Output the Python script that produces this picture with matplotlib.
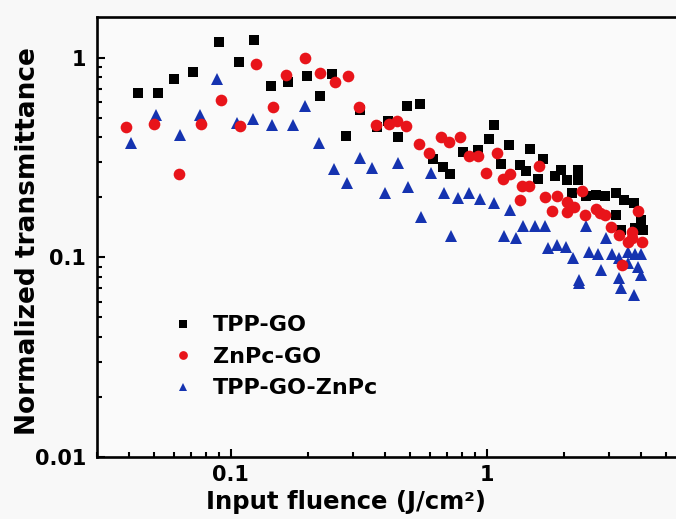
import numpy as np
from matplotlib import pyplot as plt
from matplotlib.ticker import LogLocator, FuncFormatter, NullFormatter

# TPP-GO (black squares)
tpp_go_x = [0.0433, 0.0519, 0.0599, 0.0711, 0.0898, 0.1075, 0.123, 0.144, 0.167, 0.198,
            0.223, 0.248, 0.281, 0.319, 0.372, 0.410, 0.449, 0.487, 0.547, 0.615,
            0.673, 0.717, 0.806, 0.927, 1.018, 1.065, 1.134, 1.219, 1.342, 1.424,
            1.476, 1.582, 1.665, 1.848, 1.951, 2.066, 2.148, 2.276, 2.276, 2.436,
            2.665, 2.902, 3.19, 3.19, 3.337, 3.44, 3.77, 3.80, 4.0, 4.09]
tpp_go_y = [0.665, 0.665, 0.785, 0.851, 1.196, 0.955, 1.231, 0.724, 0.754, 0.812,
            0.640, 0.831, 0.406, 0.549, 0.449, 0.481, 0.402, 0.575, 0.585, 0.311,
            0.283, 0.262, 0.338, 0.346, 0.391, 0.462, 0.294, 0.366, 0.291, 0.271,
            0.348, 0.247, 0.311, 0.256, 0.275, 0.243, 0.211, 0.275, 0.243, 0.203,
            0.206, 0.203, 0.211, 0.163, 0.137, 0.194, 0.187, 0.140, 0.154, 0.137]

# ZnPc-GO (red circles)
znpc_go_x = [0.0389, 0.0501, 0.0626, 0.0767, 0.0917, 0.1089, 0.1254, 0.146, 0.164, 0.1946,
             0.2233, 0.255, 0.2877, 0.3177, 0.3684, 0.414, 0.4469, 0.4849, 0.5438, 0.5954,
             0.6637, 0.7117, 0.787, 0.855, 0.924, 0.994, 1.094, 1.152, 1.233, 1.342,
             1.37, 1.468, 1.592, 1.690, 1.794, 1.877, 2.053, 2.053, 2.193, 2.350,
             2.425, 2.673, 2.771, 2.897, 3.05, 3.294, 3.389, 3.545, 3.70, 3.70,
             3.88, 4.05]
znpc_go_y = [0.448, 0.467, 0.262, 0.467, 0.614, 0.455, 0.930, 0.565, 0.819, 0.997,
             0.838, 0.756, 0.806, 0.569, 0.462, 0.467, 0.484, 0.455, 0.370, 0.334,
             0.400, 0.378, 0.400, 0.323, 0.323, 0.266, 0.334, 0.247, 0.262, 0.193,
             0.227, 0.227, 0.2875, 0.1995, 0.170, 0.203, 0.168, 0.190, 0.179, 0.216,
             0.163, 0.1745, 0.1665, 0.163, 0.1427, 0.1297, 0.0917, 0.120, 0.1346, 0.1248,
             0.170, 0.120]

# TPP-GO-ZnPc (blue triangles)
hybrid_x = [0.0409, 0.0509, 0.0632, 0.0758, 0.0884, 0.1055, 0.1224, 0.1452, 0.175, 0.194,
            0.2213, 0.2524, 0.2847, 0.3186, 0.3555, 0.4008, 0.4498, 0.4936, 0.5533, 0.6053,
            0.6774, 0.7267, 0.775, 0.8505, 0.9419, 1.068, 1.162, 1.230, 1.298, 1.385,
            1.537, 1.682, 1.731, 1.882, 2.044, 2.162, 2.294, 2.294, 2.436, 2.51,
            2.727, 2.788, 2.922, 3.072, 3.287, 3.287, 3.338, 3.545, 3.545, 3.762,
            3.80, 3.879, 3.996, 3.996]
hybrid_y = [0.373, 0.515, 0.409, 0.515, 0.785, 0.470, 0.492, 0.462, 0.462, 0.575,
            0.376, 0.2768, 0.236, 0.314, 0.2805, 0.2094, 0.298, 0.2244, 0.159, 0.266,
            0.2094, 0.128, 0.1977, 0.2094, 0.1958, 0.188, 0.128, 0.173, 0.1248, 0.143,
            0.143, 0.143, 0.1112, 0.1156, 0.1122, 0.0989, 0.0771, 0.0742, 0.143, 0.1066,
            0.1042, 0.0866, 0.1248, 0.1042, 0.0989, 0.0787, 0.0701, 0.1066, 0.0935, 0.0645,
            0.1042, 0.0891, 0.1042, 0.0817]

plt.rcParams['font.family'] = ['DejaVu Sans']
plt.rcParams['font.weight'] = 'bold'

fig = plt.figure(figsize=(6.76, 5.19), dpi=100, facecolor='#f8f8f8')
ax = fig.add_axes([97/676, 1-457/519, 589/676, 440/519], facecolor='#fafafa')

ax.plot(tpp_go_x, tpp_go_y, 's', color='black', markersize=7.2, mew=0,
        label='TPP-GO', zorder=2)
ax.plot(znpc_go_x, znpc_go_y, 'o', color='#e8141a', markersize=8.4, mew=0,
        label='ZnPc-GO', zorder=4)
ax.plot(hybrid_x, hybrid_y, '^', color='#1533b0', markersize=8.6, mew=0,
        label='TPP-GO-ZnPc', zorder=3)

ax.set_xscale('log')
ax.set_yscale('log')
ax.set_xlim(0.03, 6)
ax.set_ylim(0.01, 1.6)

ax.xaxis.set_major_locator(LogLocator(base=10))
ax.yaxis.set_major_locator(LogLocator(base=10))
ax.xaxis.set_minor_locator(LogLocator(base=10, subs=np.arange(2, 10)))
ax.yaxis.set_minor_locator(LogLocator(base=10, subs=np.arange(2, 10)))
fmt = FuncFormatter(lambda v, p: '{:g}'.format(v))
ax.xaxis.set_major_formatter(fmt)
ax.yaxis.set_major_formatter(fmt)
ax.xaxis.set_minor_formatter(NullFormatter())
ax.yaxis.set_minor_formatter(NullFormatter())

ax.tick_params(which='both', direction='in', top=False, right=False, width=1.5)
ax.tick_params(which='major', length=6, labelsize=15, pad=8)
ax.tick_params(axis='x', which='major', pad=5.5)
ax.tick_params(which='minor', length=3.5)
for s in ax.spines.values():
    s.set_linewidth(1.9)

ax.set_xlabel('Input fluence (J/cm²)', fontsize=17.5, fontweight='bold')
ax.set_ylabel('Normalized transmittance', fontsize=19, fontweight='bold')
ax.xaxis.set_label_coords(0.423, -0.075)
ax.yaxis.set_label_coords(-0.095, 0.49)

leg = ax.legend(loc='upper left', bbox_to_anchor=(0.127, 0.322), frameon=False,
                fontsize=16, markerscale=0.75, handlelength=1.0, handletextpad=0.85,
                labelspacing=0.52, borderpad=0, borderaxespad=0)

plt.savefig('out.png', dpi=100, facecolor=fig.get_facecolor())
